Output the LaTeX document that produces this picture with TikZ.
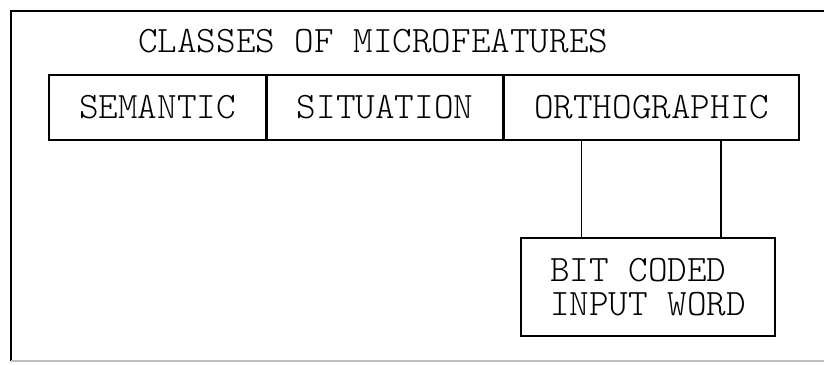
\documentclass[tikz,border=0pt]{standalone}
\usepackage{fontspec}
\newfontfamily\typefont{Latin Modern Mono Light}
\usetikzlibrary{positioning}

\tikzset{
  box/.style = {draw, line width=1.6pt, inner sep=0pt, minimum height=65pt,
                font=\typefont\fontsize{37.3}{34}\selectfont},
  frame/.style = {line width=1.6pt}
}

\begin{document}
\begin{tikzpicture}[x=1pt, y=-1pt]
	%	page size
	\useasboundingbox (0,0) rectangle (824,364);
	
	%	outer frame
	\draw[frame] (824,11) -- (11,11) -- (11,361);
	\draw[frame, black!25] (11,361) -- (824,361);
	
	%	title
	\node[anchor=base west, inner sep=0pt, font=\typefont\fontsize{37.3}{34}\selectfont] (title) at (138,52) {CLASSES OF MICROFEATURES};
	
	%	classes
	\node[box, minimum width=217pt] (sem) at (157.5,107.5) {SEMANTIC};
	\node[box, minimum width=235pt, right=0pt of sem] (sit) {SITUATION};
	\node[box, minimum width=295pt, right=0pt of sit] (orth) {ORTHOGRAPHIC};
	
	%	input word
	\node[box, minimum width=254pt, minimum height=98pt, align=left] (word) at (648,287) {BIT CODED\\INPUT WORD};
	
	%	links
	\draw[frame] ([xshift=78pt]orth.south west) -- ([xshift=78pt]orth.south west |- word.north);
	\draw[frame] ([xshift=-79pt]orth.south east) -- ([xshift=-79pt]orth.south east |- word.north);
\end{tikzpicture}
\end{document}
